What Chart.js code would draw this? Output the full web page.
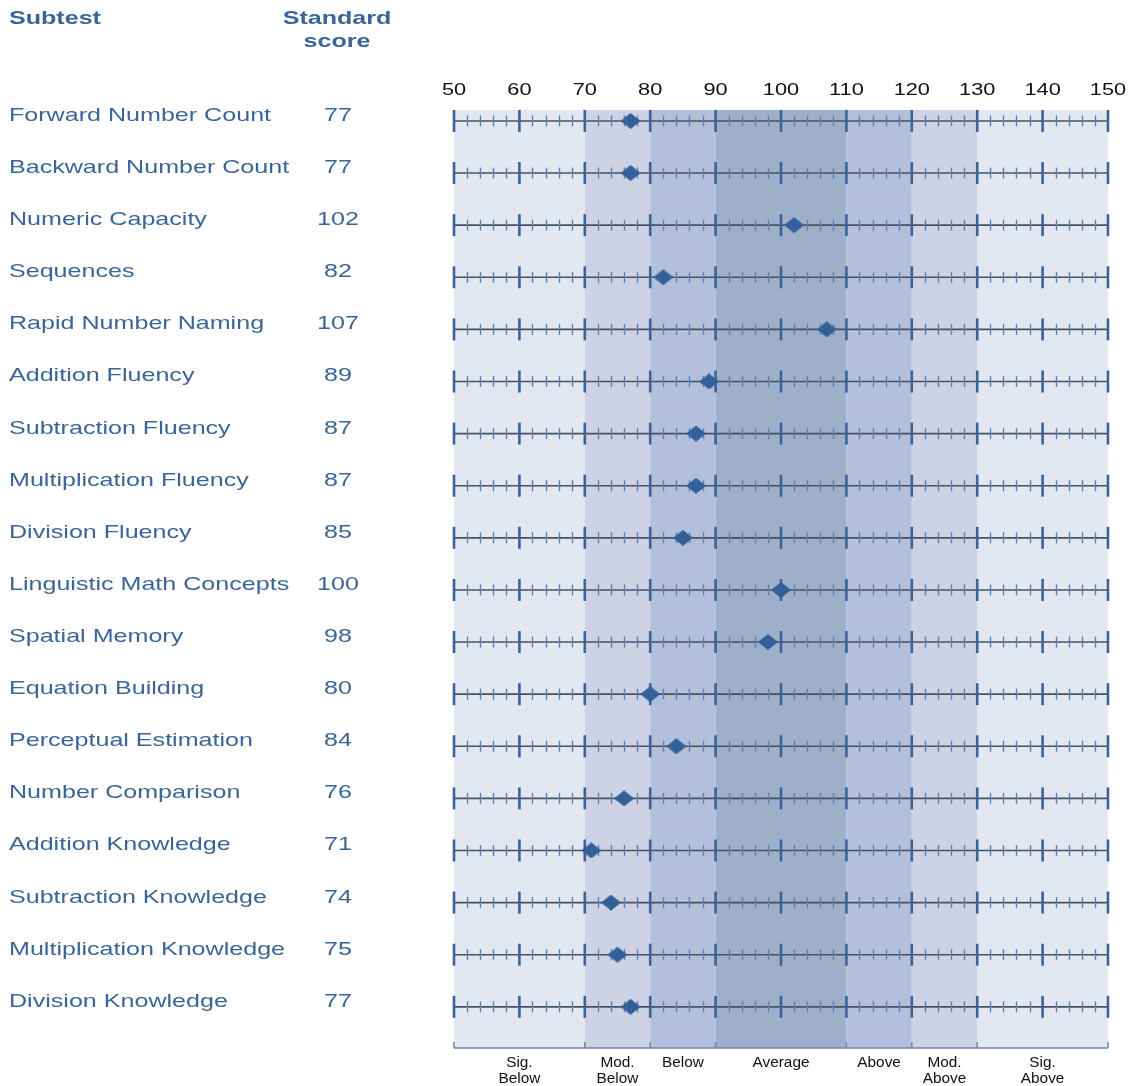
<!DOCTYPE html>
<html>
<head>
<meta charset="utf-8">
<script src="https://cdn.jsdelivr.net/npm/chart.js@4.4.1/dist/chart.umd.min.js"></script>
<style>
html, body { margin: 0; padding: 0; background: #fff; }
#wrap { width: 1134px; height: 1086px; position: relative; }
</style>
</head>
<body>
<div id="wrap"><canvas id="chart"></canvas></div>
<script>
const SUBTESTS = [
    "Forward Number Count", "Backward Number Count", "Numeric Capacity", "Sequences",
    "Rapid Number Naming", "Addition Fluency", "Subtraction Fluency", "Multiplication Fluency",
    "Division Fluency", "Linguistic Math Concepts", "Spatial Memory", "Equation Building",
    "Perceptual Estimation", "Number Comparison", "Addition Knowledge", "Subtraction Knowledge",
    "Multiplication Knowledge", "Division Knowledge"
];
const SCORES = [77, 77, 102, 82, 107, 89, 87, 87, 85, 100, 98, 80, 84, 76, 71, 74, 75, 77];
const SCALE_TICKS = [50, 60, 70, 80, 90, 100, 110, 120, 130, 140, 150];
const MINOR_STEP = 2;
const BAND_EDGES = [50, 70, 80, 90, 110, 120, 130, 150];
const BAND_LABELS = [
    ["Sig.", "Below"], ["Mod.", "Below"], ["Below"], ["Average"],
    ["Above"], ["Mod.", "Above"], ["Sig.", "Above"]
];

// Styling
const BAND_COLORS = ["#e3e7f2", "#cdd3e4", "#b2c0dc", "#9eafc9", "#b2c0dc", "#cdd3e4", "#e3e7f2"];
const BLUE_TEXT = "#3b6598";
const MARKER = "#34609a";
const SX = 1.32; // the original text is drawn horizontally stretched

function stretchText(ctx, txt, x, y, align, sx) {
    ctx.save();
    ctx.translate(x, y);
    ctx.scale(sx, 1);
    ctx.textAlign = align;
    ctx.textBaseline = "alphabetic";
    ctx.fillText(txt, 0, 0);
    ctx.restore();
}

function diamond(w, h, color) {
    const c = document.createElement("canvas");
    c.width = w; c.height = h;
    const g = c.getContext("2d");
    g.fillStyle = color;
    g.beginPath();
    g.moveTo(w / 2, 0); g.lineTo(w, h / 2); g.lineTo(w / 2, h); g.lineTo(0, h / 2);
    g.closePath();
    g.fill();
    return c;
}

const bandsPlugin = {
    id: "bands",
    beforeDatasetsDraw(chart) {
        const { ctx, chartArea, scales } = chart;
        const x = scales.x, y = scales.y;
        ctx.save();
        // coloured bands
        for (let i = 0; i < BAND_COLORS.length; i++) {
            const x0 = x.getPixelForValue(BAND_EDGES[i]);
            const x1 = x.getPixelForValue(BAND_EDGES[i + 1]);
            ctx.fillStyle = BAND_COLORS[i];
            ctx.fillRect(x0, chartArea.top, x1 - x0, chartArea.bottom - chartArea.top);
        }
        // one scale line per subtest
        const xl = x.getPixelForValue(SCALE_TICKS[0]);
        const xr = x.getPixelForValue(SCALE_TICKS[SCALE_TICKS.length - 1]);
        SUBTESTS.forEach((_, i) => {
            const py = y.getPixelForValue(i);
            ctx.strokeStyle = "#4a505d";
            ctx.lineWidth = 1.6;
            ctx.beginPath(); ctx.moveTo(xl, py); ctx.lineTo(xr, py); ctx.stroke();

            ctx.strokeStyle = "#5f80b2";
            ctx.lineWidth = 1.4;
            for (let v = SCALE_TICKS[0] + MINOR_STEP; v < SCALE_TICKS[SCALE_TICKS.length - 1]; v += MINOR_STEP) {
                if (v % 10 === 0) continue;
                const px = Math.round(x.getPixelForValue(v)) + 0.5;
                ctx.beginPath(); ctx.moveTo(px, py - 5.5); ctx.lineTo(px, py + 5.5); ctx.stroke();
            }
            ctx.strokeStyle = "#3a6399";
            ctx.lineWidth = 2.6;
            for (const v of SCALE_TICKS) {
                const px = x.getPixelForValue(v);
                ctx.beginPath(); ctx.moveTo(px, py - 11); ctx.lineTo(px, py + 11); ctx.stroke();
            }
        });
        // bottom axis with band boundaries
        ctx.strokeStyle = "#6f86ad";
        ctx.lineWidth = 1.5;
        ctx.beginPath(); ctx.moveTo(xl, chartArea.bottom); ctx.lineTo(xr, chartArea.bottom); ctx.stroke();
        for (const v of BAND_EDGES) {
            const px = x.getPixelForValue(v);
            ctx.beginPath(); ctx.moveTo(px, chartArea.bottom); ctx.lineTo(px, chartArea.bottom - 6); ctx.stroke();
        }
        ctx.restore();
    },
    afterDraw(chart) {
        const { ctx, chartArea, scales } = chart;
        const x = scales.x, y = scales.y;
        ctx.save();
        // headers
        ctx.fillStyle = BLUE_TEXT;
        ctx.font = "bold 19px 'Liberation Sans', Arial, sans-serif";
        stretchText(ctx, "Subtest", 9, 24, "left", SX);
        stretchText(ctx, "Standard", 337, 24, "center", SX);
        stretchText(ctx, "score", 337, 47, "center", SX);
        // row labels and scores
        ctx.font = "19px 'Liberation Sans', Arial, sans-serif";
        SUBTESTS.forEach((name, i) => {
            const py = y.getPixelForValue(i);
            stretchText(ctx, name, 9, py, "left", SX);
            stretchText(ctx, String(SCORES[i]), 338, py, "center", SX);
        });
        // scale numbers on top
        ctx.fillStyle = "#111";
        ctx.font = "17px 'Liberation Sans', Arial, sans-serif";
        for (const v of SCALE_TICKS) {
            stretchText(ctx, String(v), x.getPixelForValue(v), 95, "center", 1.28);
        }
        // band names under the axis
        ctx.font = "14.5px 'Liberation Sans', Arial, sans-serif";
        BAND_LABELS.forEach((lines, i) => {
            const cx = x.getPixelForValue((BAND_EDGES[i] + BAND_EDGES[i + 1]) / 2);
            lines.forEach((ln, k) => {
                stretchText(ctx, ln, cx, chartArea.bottom + 19 + k * 15.5, "center", 1.06);
            });
        });
        ctx.restore();
    }
};

new Chart(document.getElementById("chart"), {
    type: "scatter",
    data: {
        datasets: [{
            data: SCORES.map((s, i) => ({ x: s, y: i })),
            pointStyle: diamond(20, 16, MARKER),
            pointRadius: 9,
            pointHoverRadius: 9
        }]
    },
    options: {
        responsive: true,
        maintainAspectRatio: false,
        animation: false,
        layout: { padding: { left: 454, right: 26, top: 110, bottom: 38 } },
        plugins: { legend: { display: false }, tooltip: { enabled: false } },
        scales: {
            x: { type: "linear", min: 50, max: 150, display: false },
            y: { type: "linear", min: -0.21, max: 17.79, reverse: true, display: false }
        }
    },
    plugins: [bandsPlugin]
});
</script>
</body>
</html>
